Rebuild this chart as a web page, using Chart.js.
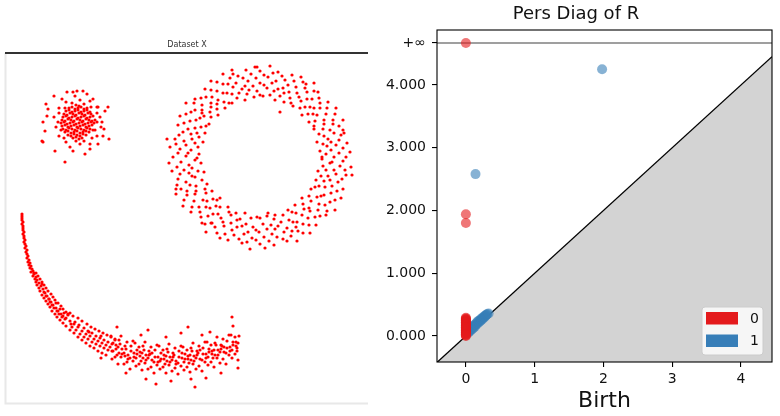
<!DOCTYPE html>
<html>
<head>
<meta charset="utf-8">
<script src="https://cdn.jsdelivr.net/npm/chart.js@4.4.1/dist/chart.umd.min.js"></script>
<style>
  html, body { margin: 0; padding: 0; background: #fff; }
  #wrap { position: relative; width: 780px; height: 416px; overflow: hidden; }
  #left { position: absolute; left: 0; top: 0; }
  #right { position: absolute; left: 380px; top: 0; }
</style>
</head>
<body>
<div id="wrap">
  <canvas id="left" width="380" height="416"></canvas>
  <canvas id="right" width="400" height="416"></canvas>
</div>
<script>
// ---- Dataset X (left panel) ----
const blobPoints = [
  [67,265],[70,266],[73,264],[76,265],
  [62,268],[65,267],[68,269],[71,268],[74,267],[77,269],[80,268],
  [59,271],[62,272],[65,270],[68,271],[71,272],[74,270],[77,271],[80,272],[83,271],
  [57,274],[60,273],[63,275],[66,274],[69,273],[72,275],[75,274],[78,273],[81,275],[84,274],[87,273],
  [56,277],[59,278],[62,276],[65,277],[68,278],[71,276],[74,277],[77,278],[80,276],[83,277],[86,278],
  [55,280],[58,281],[61,279],[64,280],[67,281],[70,279],[73,280],[76,281],[79,279],[82,280],[85,281],[88,280],
  [56,283],[59,282],[62,284],[65,283],[68,282],[71,284],[74,283],[77,282],[80,284],[83,283],[86,282],[89,283],
  [57,286],[60,287],[63,285],[66,286],[69,287],[72,285],[75,286],[78,287],[81,285],[84,286],[87,287],
  [58,289],[61,288],[64,290],[67,289],[70,288],[73,290],[76,289],[79,288],[82,290],[85,289],
  [60,292],[63,293],[66,291],[69,292],[72,293],[75,291],[78,292],[81,293],[84,291],
  [63,295],[66,296],[69,294],[72,295],[75,296],[78,294],[81,295],
  [70,298],[73,297],
  [91,281],[94,286],[91,290],[92,296],[85,296],[84,302],[78,299],[74,303],[69,307],[66,300],
  [60,301],[59,295],[53,295],[53,290],[48,286],[52,281],[50,276],[55,273],[53,267],[58,265],
  [60,261],[64,256],[70,262],[74,259],[78,262],[84,259],[86,265],[91,267],[89,273],[95,276],
  [40,299],[48,307],[61,311],[67,311],[77,312],[81,309],[87,304],[102,296],[99,292],[103,264],
  [97,267],[92,259],[84,254],[79,249],[67,252],[59,241],[49,252],[37,261],[36,262],[39,272],
  [37,281],[41,287],[42,294],[91,296],[96,281],[98,274],[71,312],[56,304]
];

const ringPoints = [
  [316,246],[328,246],[340,246],[320,249],[333,250],[344,251],[314,252],[325,253],[337,255],
  [321,257],[330,258],[341,260],[317,259],[325,261],[333,263],[311,261],[322,264],[335,268],
  [318,267],[328,270],[337,273],[313,269],[324,273],[333,277],[317,274],[327,279],[337,283],
  [308,274],[318,279],[327,283],[308,277],[318,283],[329,289],[309,282],[320,289],[330,295],
  [303,281],[311,288],[321,295],[307,289],[314,295],[322,301],[302,289],[308,295],[314,300],
  [296,288],[304,296],[313,305],[299,296],[306,304],[312,311],[294,295],[301,304],[308,312],
  [295,302],[301,311],[308,320],[287,297],[293,306],[299,315],[285,300],[291,310],[297,321],
  [284,305],[290,316],[295,326],[278,301],[283,311],[288,322],[278,310],[282,318],[286,328],
  [274,307],[277,315],[279,323],[269,303],[272,314],[276,327],[268,312],[270,322],[272,331],
  [264,308],[266,320],[267,330],[261,315],[262,326],[264,337],[257,307],[258,318],[258,328],
  [254,308],[254,320],[254,332],[251,312],[250,325],[249,336],[248,306],[247,317],[245,329],
  [243,313],[242,322],[240,333],[241,309],[239,317],[237,325],[239,303],[236,314],[232,327],
  [233,310],[230,320],[227,329],[231,305],[227,316],[224,325],[226,309],[222,319],[217,329],
  [226,300],[221,310],[217,319],[223,300],[217,310],[211,321],[218,301],[211,312],[205,322],
  [219,295],[212,303],[205,313],[211,299],[206,306],[199,314],[211,294],[205,300],[200,306],
  [212,288],[205,296],[195,305],[204,291],[196,298],[189,304],[205,286],[196,293],[188,300],
  [198,287],[189,293],[180,300],[203,279],[194,285],[185,291],[200,277],[190,283],[180,289],
  [195,276],[184,282],[174,287],[199,270],[189,275],[178,280],[191,270],[182,274],[172,278],
  [193,266],[185,269],[177,271],[197,261],[186,264],[173,268],[189,260],[178,262],[169,264],
  [192,256],[180,258],[170,259],[185,253],[174,254],[164,256],[193,249],[182,250],[172,250],
  [191,245],[180,247],[167,246],[189,243],[175,241],[163,240],[195,240],[183,238],[171,236],
  [186,235],[178,233],[166,232],[192,232],[183,230],[174,229],[198,231],[186,227],[172,224],
  [189,226],[180,221],[171,218],[196,223],[184,218],[175,214],[190,217],[181,212],[170,209],
  [201,219],[190,212],[181,208],[199,214],[189,209],[178,203],[200,210],[188,202],[177,197],
  [206,212],[197,203],[186,196],[201,202],[193,196],[185,191],[207,204],[200,196],[194,191],
  [211,203],[204,195],[195,186],[210,197],[202,187],[196,180],[214,196],[207,189],[199,179],
  [212,189],[206,180],[200,171],[222,196],[215,185],[209,176],[223,191],[217,181],[211,170],
  [225,188],[218,177],[214,165],[230,190],[225,180],[219,169],[231,183],[226,173],[222,163],
  [234,184],[231,176],[228,168],[239,190],[236,177],[233,164],[240,179],[238,169],[236,160],
  [245,185],[242,171],[241,161],[247,176],[246,165],[244,154],[251,186],[250,173],[250,163],
  [254,185],[253,171],[254,159],[257,179],[258,166],[259,155],[261,187],[261,174],[263,162],
  [265,178],[266,169],[268,158],[268,184],[269,174],[271,166],[269,188],[272,177],[277,164],
  [275,181],[278,171],[281,162],[277,188],[281,175],[285,167],[283,183],[286,172],[291,162],
  [282,193],[287,181],[292,172],[286,191],[291,181],[297,170],[290,190],[297,179],[304,170],
  [289,198],[296,188],[303,178],[298,194],[302,185],[310,178],[297,199],[304,192],[309,186],
  [296,205],[303,195],[314,187],[305,202],[312,193],[320,188],[303,207],[313,199],[321,192],
  [311,206],[319,198],[329,193],[305,214],[315,207],[324,201],[309,216],[318,208],[329,203],
  [313,217],[325,210],[335,205],[310,223],[319,216],[331,212],[318,222],[326,217],[337,214],
  [315,227],[324,223],[332,221],[312,232],[322,227],[336,224],[320,233],[330,229],[340,228],
  [317,237],[328,233],[339,233],[324,240],[334,237],[345,236],[316,244],[326,241],[337,242],
  [274,291],[214,205],[346,228],[161,264],[251,336],[226,333],[300,319],[205,180],[170,214],
  [338,270],[290,176],[262,190],[196,290]
];

const arcPoints = [
  [16,189],[16,187],[16,185],[16,183],[17,181],[16,179],[17,177],[17,175],[17,173],[18,171],
  [17,169],[18,167],[18,165],[19,163],[18,161],[19,159],[20,157],[19,155],[21,153],[20,151],
  [21,149],[22,147],[21,145],[23,143],[22,141],[24,140],[23,138],[25,137],[24,135],[26,134],
  [27,132],[25,131],[28,130],
  [28,129],[30,130],[27,127],[30,126],[32,127],[29,124],[31,123],[34,124],[30,121],
  [33,120],[36,121],[31,118],[35,117],[38,118],[33,115],[36,119],[37,114],[40,115],[34,112],[38,111],
  [39,110],[42,112],[36,108],[40,107],[41,107],[45,109],[38,105],[43,104],[43,104],[47,106],[40,102],[44,101],
  [45,101],[49,103],[42,99],[46,98],[50,100],[47,98],[52,100],[44,96],[48,95],
  [50,95],[55,97],[46,92],[51,92],[54,94],[52,92],[57,94],[49,89],[53,89],
  [55,89],[60,91],[51,86],[56,86],[58,90],[57,87],[62,89],[54,83],[59,84],
  [60,85],[64,90],[57,80],[62,88],[64,82],[67,87],[60,77],[65,79],
  [68,79],[72,85],[64,73],[69,81],[66,76],[72,76],[76,82],[68,70],[73,78],[70,73],
  [76,72],[81,79],[72,66],[78,75],[74,69],[80,69],[85,76],[76,63],[82,72],[78,66],[83,71],
  [84,67],[89,74],[80,60],[86,70],[82,64],[88,64],[93,72],[84,57],[90,67],[86,61],
  [92,62],[97,70],[88,55],[94,65],[90,59],[95,67],[96,60],[101,68],[92,52],[98,63],[94,57],
  [100,58],[105,66],[96,50],[102,61],[98,55],[104,56],[109,64],[100,48],[106,59],[102,53],
  [106,44],[106,52],[107,60],[105,67],[109,46],[110,54],[109,63],[112,39],[111,48],[112,56],[113,63],
  [115,46],[116,54],[114,59],[115,67],[118,39],[118,50],[119,57],[121,41],[122,48],[120,54],[121,61],
  [124,34],[124,45],[125,57],[127,42],[128,50],[127,62],[130,37],[130,45],[131,53],[129,60],
  [133,39],[134,47],[133,56],[136,33],[135,42],[136,50],[137,57],[139,40],[140,48],[138,53],[139,61],
  [142,34],[142,45],[143,52],[145,36],[146,43],[144,49],[145,56],[148,30],[148,41],[149,53],
  [151,38],[152,46],[151,58],[154,34],[154,42],[155,50],[153,57],[157,36],[158,44],[157,53],
  [160,30],[159,39],[160,47],[161,54],[163,38],[164,46],[162,51],[163,59],[166,32],[166,43],[167,50],
  [169,35],[170,42],[168,48],[169,55],[172,29],[172,40],[173,52],[175,37],[176,45],[175,57],
  [178,33],[178,41],[179,49],[177,56],[181,36],[182,44],[181,53],[184,31],[183,40],[184,48],[185,55],
  [187,39],[188,47],[186,52],[187,60],[190,34],[190,45],[191,52],[193,37],[194,44],[192,50],[193,57],
  [196,32],[196,43],[197,55],[199,41],[200,49],[199,61],[202,38],[202,46],[203,54],[201,61],
  [205,41],[206,49],[205,58],[208,36],[207,45],[208,53],[209,60],[211,45],[212,53],[210,58],[211,66],
  [214,40],[214,51],[215,58],[217,44],[218,51],[216,57],[217,64],[220,39],[220,50],[221,62],
  [223,48],[224,56],[223,68],[226,45],[226,53],[227,61],[225,68],[229,49],[230,57],[229,66],
  [232,43],[231,52],[232,60],[233,67],
  [107,52],[113,50],[119,47],[125,52],[131,49],[137,45],[143,48],[149,46],[155,44],[161,42],
  [167,46],[173,46],[179,44],[185,43],[191,48],[197,49],[203,51],[209,48],[215,54],[221,55],
  [227,58],[231,55],[110,58],[116,49],[122,44],[128,46],[134,51],[140,43],[146,50],[152,41],
  [158,48],[164,41],[170,39],[176,50],[182,47],[188,42],[194,53],[200,45],[206,52],[212,48],
  [218,56],[224,52],[230,61],
  [150,19],[189,16],[111,76],[142,73],[182,76],[204,71],[226,86],[227,77],[120,30],[165,22],
  [200,25],[232,35],[175,70],[135,68],[215,30],[95,45],[160,66],[196,68],[140,24],[185,24]
];

// ---- Persistence diagram (right panel) ----
const h0Births = [0,0,0,0,0,0,0,0,0,0,0,0,0,0,0,0,0,0,0,0,0,0,0,0,0,0,0,0,0,0,0,0,0];
const h0Deaths = [Infinity, 1.94, 1.80, 0.29, 0.28, 0.27, 0.26, 0.25, 0.24, 0.23, 0.22, 0.21,
  0.20, 0.19, 0.18, 0.17, 0.16, 0.15, 0.14, 0.13, 0.12, 0.11, 0.10, 0.09, 0.08, 0.07, 0.06,
  0.05, 0.04, 0.03, 0.02, 0.01, 0.00];
const h1Births = [1.98, 0.14, 0.03, 0.04, 0.05, 0.06, 0.07, 0.08, 0.09, 0.10, 0.11, 0.12, 0.13,
  0.14, 0.15, 0.16, 0.17, 0.18, 0.19, 0.20, 0.21, 0.22, 0.23, 0.24, 0.25, 0.26, 0.27, 0.28,
  0.29, 0.30, 0.31, 0.33];
const h1Deaths = [4.25, 2.58, 0.05, 0.08, 0.07, 0.10, 0.09, 0.13, 0.11, 0.15, 0.13, 0.17, 0.15,
  0.19, 0.18, 0.22, 0.20, 0.24, 0.22, 0.25, 0.24, 0.27, 0.26, 0.29, 0.28, 0.31, 0.30, 0.32,
  0.33, 0.34, 0.35, 0.36];

const xMin = -0.42, xMax = 4.45;
const yMin = -0.414, yMax = 4.876;
const infY = 4.669;                       // where +inf is drawn
const xTickValues = [0, 1, 2, 3, 4];
const yTickValues = [0, 1, 2, 3, 4, infY];
const FONT = 'DejaVu Sans';

const toXY = arr => arr.map(p => ({ x: p[0], y: p[1] }));
const pairs = (b, d) => b.map((v, i) => ({ x: v, y: d[i] === Infinity ? infY : d[i] }));

function dotSet(points) {
    return {
        data: toXY(points),
        backgroundColor: 'rgb(255,0,0)',
        borderColor: 'rgb(255,0,0)',
        borderWidth: 0,
        pointRadius: 1.6
    };
}

// border lines of the left picture
const leftFrame = {
    id: 'leftFrame',
    beforeDatasetsDraw(chart) {
        const { ctx, chartArea: ca } = chart;
        ctx.save();
        ctx.lineWidth = 2;
        ctx.strokeStyle = '#e8e8e8';
        ctx.beginPath();
        ctx.moveTo(ca.left - 0.5, ca.top);
        ctx.lineTo(ca.left - 0.5, ca.bottom + 0.5);
        ctx.lineTo(ca.right, ca.bottom + 0.5);
        ctx.stroke();
        ctx.strokeStyle = '#333';
        ctx.beginPath();
        ctx.moveTo(ca.left - 1, ca.top);
        ctx.lineTo(ca.right, ca.top);
        ctx.stroke();
        ctx.restore();
    }
};

new Chart(document.getElementById('left'), {
    type: 'scatter',
    data: { datasets: [dotSet(blobPoints), dotSet(ringPoints), dotSet(arcPoints)] },
    options: {
        responsive: false,
        animation: false,
        devicePixelRatio: 1,
        layout: { padding: { left: 6, right: 12, top: 0, bottom: 13 } },
        plugins: {
            legend: { display: false },
            tooltip: { enabled: false },
            title: {
                display: true,
                text: 'Dataset X',
                color: '#333',
                font: { family: FONT, size: 8, weight: 'normal' },
                padding: { top: 40, bottom: 3.4 }
            }
        },
        scales: {
            x: { type: 'linear', display: false, min: 0, max: 362 },
            y: { type: 'linear', display: false, min: 0, max: 350 }
        }
    },
    plugins: [leftFrame]
});

// full box around the plot + legend inside the lower right corner
const boxAndLegend = {
    id: 'boxAndLegend',
    afterDatasetsDraw(chart) {
        const { ctx, chartArea: ca } = chart;
        ctx.save();
        ctx.strokeStyle = '#000';
        ctx.lineWidth = 1.1;
        ctx.strokeRect(ca.left, ca.top, ca.right - ca.left, ca.bottom - ca.top);
        ctx.restore();
    },
    afterDraw(chart) {
        const { ctx, chartArea: ca } = chart;
        const items = chart.data.datasets.filter(d => d.legendColor);
        const bx = ca.right - 70, by = ca.bottom - 55, bw = 61, bh = 48;
        ctx.save();
        ctx.fillStyle = 'rgba(255,255,255,0.8)';
        ctx.strokeStyle = '#cccccc';
        ctx.lineWidth = 1;
        ctx.beginPath();
        ctx.roundRect(bx, by, bw, bh, 3);
        ctx.fill();
        ctx.stroke();
        ctx.font = '14px ' + FONT;
        ctx.textBaseline = 'middle';
        items.forEach((d, i) => {
            const y = by + 5 + i * 22.5;
            ctx.fillStyle = d.legendColor;
            ctx.fillRect(bx + 4, y, 32, 12.5);
            ctx.fillStyle = '#111';
            ctx.fillText(d.label, bx + 48, y + 7);
        });
        ctx.restore();
    }
};

const tickFont = { family: FONT, size: 14 };

new Chart(document.getElementById('right'), {
    type: 'scatter',
    data: {
        datasets: [
            {
                label: '0',
                data: pairs(h0Births, h0Deaths),
                backgroundColor: 'rgba(228,26,28,0.6)',
                borderWidth: 0,
                pointRadius: 5,
                legendColor: '#e41a1c',
                order: 1
            },
            {
                label: '1',
                data: pairs(h1Births, h1Deaths),
                backgroundColor: 'rgba(55,126,184,0.6)',
                borderWidth: 0,
                pointRadius: 5,
                legendColor: '#377eb8',
                order: 2
            },
            {
                type: 'line',
                data: [{ x: xMin, y: infY }, { x: xMax, y: infY }],
                borderColor: 'rgba(0,0,0,0.5)',
                borderWidth: 1.4,
                pointRadius: 0,
                fill: false,
                order: 3
            },
            {
                type: 'line',
                data: [{ x: xMin, y: xMin }, { x: xMax, y: xMax }],
                borderColor: '#000',
                borderWidth: 1.3,
                backgroundColor: '#d3d3d3',
                pointRadius: 0,
                fill: 'start',
                order: 4
            }
        ]
    },
    options: {
        responsive: false,
        animation: false,
        devicePixelRatio: 1,
        layout: { padding: { left: 0, right: 8, top: 0, bottom: 0 } },
        plugins: {
            legend: { display: false },
            tooltip: { enabled: false },
            title: {
                display: true,
                text: 'Pers Diag of R',
                color: '#111',
                font: { family: FONT, size: 18, weight: 'normal' },
                padding: { top: 4, bottom: 4.4 }
            }
        },
        scales: {
            x: {
                type: 'linear',
                min: xMin,
                max: xMax,
                afterBuildTicks: s => { s.ticks = xTickValues.map(v => ({ value: v })); },
                afterFit: s => { s.height = 54; },
                ticks: { font: tickFont, color: '#111', padding: 4, maxRotation: 0 },
                grid: { display: true, drawOnChartArea: false, drawTicks: true, tickLength: 5, color: '#000', lineWidth: 1.1 },
                border: { display: false },
                title: {
                    display: true,
                    text: 'Birth',
                    color: '#111',
                    font: { family: FONT, size: 22 },
                    padding: { top: 0, bottom: 2 }
                }
            },
            y: {
                type: 'linear',
                min: yMin,
                max: yMax,
                afterBuildTicks: s => { s.ticks = yTickValues.map(v => ({ value: v })); },
                afterFit: s => { s.width = 57; },
                ticks: {
                    font: tickFont,
                    color: '#111',
                    padding: 6,
                    callback: v => (v === infY ? '+\u221E' : v.toFixed(3))
                },
                grid: { display: true, drawOnChartArea: false, drawTicks: true, tickLength: 5, color: '#000', lineWidth: 1.1 },
                border: { display: false }
            }
        }
    },
    plugins: [boxAndLegend]
});
</script>
</body>
</html>
